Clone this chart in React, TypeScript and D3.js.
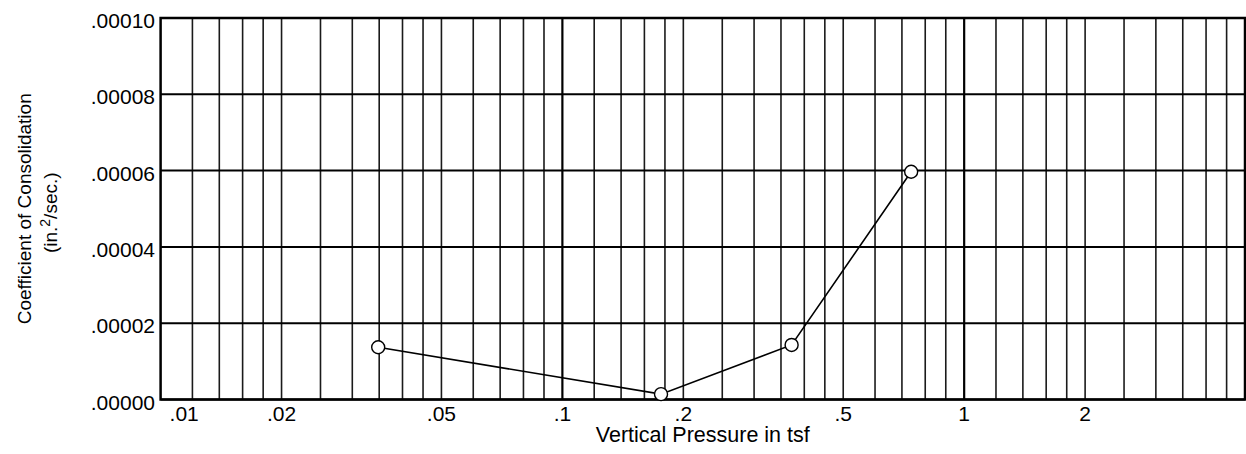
import React, { useEffect, useRef } from 'react';
import * as d3 from 'd3';

// vertical pressure (tsf) vs coefficient of consolidation (in.2/sec.)
const pressure = [0.0348, 0.176, 0.372, 0.738];
const cv = [0.0000137, 0.0000014, 0.0000143, 0.0000597];

const xTickValues = [0.01, 0.02, 0.05, 0.1, 0.2, 0.5, 1, 2];
const xTickLabels = ['.01', '.02', '.05', '.1', '.2', '.5', '1', '2'];
const yTickValues = [0, 0.00002, 0.00004, 0.00006, 0.00008, 0.0001];
const yTickLabels = ['.00000', '.00002', '.00004', '.00006', '.00008', '.00010'];
// grid multipliers inside each decade
const gridSteps = [1, 1.2, 1.4, 1.6, 1.8, 2, 2.5, 3, 3.5, 4, 4.5, 5, 6, 7, 8, 9];
const decades = [0.01, 0.1, 1];

const W = 1246;
const H = 454;
const FONT = '"Liberation Sans", Arial, Helvetica, sans-serif';

const App = () => {
  const svgRef = useRef<SVGSVGElement>(null);

  useEffect(() => {
    document.body.style.margin = '0';
    const svg = d3.select(svgRef.current);
    svg.selectAll('*').remove();

    const x = d3.scaleLog().domain([0.01, 5]).range([160.6, 1245]);
    const y = d3.scaleLinear().domain([0, 0.0001]).range([399.5, 18]);
    const [x0, x1] = x.range();
    const [yb, yt] = y.range();

    const g = svg.append('g');

    // vertical grid
    const gridX: number[] = [];
    decades.forEach(d => gridSteps.forEach(s => {
      const v = +(d * s).toPrecision(3);
      if (v > 0.01 && v < 5) gridX.push(v);
    }));
    const isDecade = (d: number) => Math.abs(Math.log10(d) - Math.round(Math.log10(d))) < 1e-6;
    g.selectAll('.vgrid')
      .data(gridX)
      .enter()
      .append('line')
      .attr('x1', d => x(d))
      .attr('x2', d => x(d))
      .attr('y1', yt)
      .attr('y2', yb)
      .attr('stroke', d => (isDecade(d) ? '#000' : '#1a1a1a'))
      .attr('stroke-width', d => (isDecade(d) ? 2.2 : 1.6));

    // horizontal grid
    g.selectAll('.hgrid')
      .data(yTickValues)
      .enter()
      .append('line')
      .attr('x1', x0)
      .attr('x2', x1)
      .attr('y1', d => y(d))
      .attr('y2', d => y(d))
      .attr('stroke', '#000')
      .attr('stroke-width', 2);

    // frame
    g.append('rect')
      .attr('x', x0)
      .attr('y', yt)
      .attr('width', x1 - x0)
      .attr('height', yb - yt)
      .attr('fill', 'none')
      .attr('stroke', '#000')
      .attr('stroke-width', 2.5);

    // y tick labels
    g.selectAll('.ylab')
      .data(yTickValues)
      .enter()
      .append('text')
      .attr('x', 155)
      .attr('y', d => y(d) + 10)
      .attr('text-anchor', 'end')
      .attr('font-family', FONT)
      .attr('font-size', 21)
      .attr('fill', '#000')
      .text((d, i) => yTickLabels[i]);

    // x tick labels
    g.selectAll('.xlab')
      .data(xTickValues)
      .enter()
      .append('text')
      .attr('x', (d, i) => (i === 0 ? x(d) + 9 : x(d)))
      .attr('y', 420.5)
      .attr('text-anchor', (d, i) => (i === 0 ? 'start' : 'middle'))
      .attr('font-family', FONT)
      .attr('font-size', 21)
      .attr('fill', '#000')
      .text((d, i) => xTickLabels[i]);

    // axis titles
    g.append('text')
      .attr('x', (x0 + x1) / 2)
      .attr('y', 442)
      .attr('text-anchor', 'middle')
      .attr('font-family', FONT)
      .attr('font-size', 21.5)
      .attr('fill', '#000')
      .text('Vertical Pressure in tsf');

    const yt1 = g.append('text')
      .attr('transform', `translate(31, ${(yt + yb) / 2}) rotate(-90)`)
      .attr('text-anchor', 'middle')
      .attr('font-family', FONT)
      .attr('font-size', 19)
      .attr('fill', '#000');
    yt1.text('Coefficient of Consolidation');

    const yt2 = g.append('text')
      .attr('transform', `translate(57, ${(yt + yb) / 2 + 4}) rotate(-90)`)
      .attr('text-anchor', 'middle')
      .attr('font-family', FONT)
      .attr('font-size', 19)
      .attr('fill', '#000');
    yt2.append('tspan').text('(in.');
    yt2.append('tspan').attr('dy', -7).attr('font-size', 14).text('2');
    yt2.append('tspan').attr('dy', 7).text('/sec.)');

    // data line
    const pts = pressure.map((p, i) => [p, cv[i]] as [number, number]);
    const line = d3.line<[number, number]>()
      .x(d => x(d[0]))
      .y(d => y(d[1]));

    g.append('path')
      .datum(pts)
      .attr('d', line)
      .attr('fill', 'none')
      .attr('stroke', '#000')
      .attr('stroke-width', 1.6);

    g.selectAll('.pt')
      .data(pts)
      .enter()
      .append('circle')
      .attr('cx', d => x(d[0]))
      .attr('cy', d => y(d[1]))
      .attr('r', 6.5)
      .attr('fill', '#fff')
      .attr('stroke', '#000')
      .attr('stroke-width', 1.4);
  }, []);

  return (
    <svg ref={svgRef} width={W} height={H} viewBox={`0 0 ${W} ${H}`} style={{ display: 'block', background: '#fff' }} />
  );
};

export default App;
